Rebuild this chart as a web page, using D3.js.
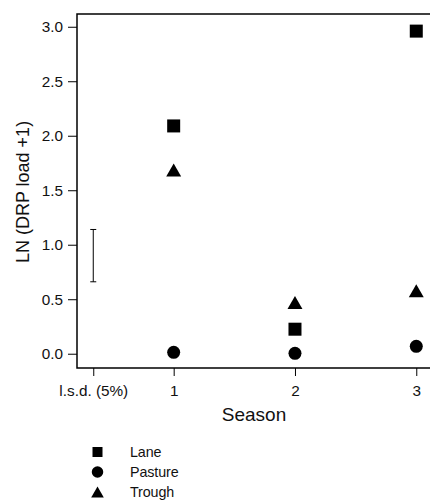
<!DOCTYPE html>
<html>
<head>
<meta charset="utf-8">
<script src="https://cdn.jsdelivr.net/npm/d3@7"></script>
<style>
  html, body { margin: 0; padding: 0; background: #fff; }
  svg { display: block; font-family: "Liberation Sans", Arial, sans-serif; }
</style>
</head>
<body>
<div id="chart"></div>
<script>
// ---- Data ----
const seasons = [1, 2, 3];
const lane = [2.09, 0.225, 2.96];
const pasture = [0.013, 0.004, 0.068];
const trough = [1.685, 0.47, 0.577];
const lsdPosition = 0.337;
const lsdRange = [0.66, 1.14];
const xTickValues = [0.337, 1, 2, 3];
const xTickLabels = ["l.s.d. (5%)", "1", "2", "3"];
const yTickValues = [0, 0.5, 1, 1.5, 2, 2.5, 3];
const seriesNames = ["Lane", "Pasture", "Trough"];
const seriesShapes = ["square", "circle", "triangle"];

// ---- Layout ----
const W = 430, H = 502;
const plotLeft = 77, plotTop = 14, plotRight = 432, plotBottom = 368;

const svg = d3.select("#chart").append("svg").attr("width", W).attr("height", H);

const x = d3.scaleLinear().domain([0.203, 3.113]).range([plotLeft, plotLeft + (3.113 - 0.203) * 121.3]);
const y = d3.scaleLinear().domain([-0.131, 3.117]).range([plotBottom, plotTop]);

// Frame (top, left, bottom)
svg.append("path")
  .attr("d", `M${plotRight},${plotTop}H${plotLeft}V${plotBottom}H${plotRight}`)
  .attr("fill", "none").attr("stroke", "#000").attr("stroke-width", 1.5);

// Y axis
const yAxis = d3.axisLeft(y).tickValues(yTickValues).tickFormat(d3.format(".1f")).tickSize(9).tickPadding(5);
const gy = svg.append("g").attr("transform", `translate(${plotLeft},0)`).call(yAxis);
gy.select(".domain").remove();
gy.selectAll("line").attr("stroke", "#000").attr("stroke-width", 1);
gy.selectAll("text").attr("font-size", 15.3).attr("fill", "#111").attr("font-family", "Liberation Sans, Arial, sans-serif");

// X axis
const xAxis = d3.axisBottom(x).tickValues(xTickValues).tickFormat((d, i) => xTickLabels[i]).tickSize(8).tickPadding(9);
const gx = svg.append("g").attr("transform", `translate(0,${plotBottom})`).call(xAxis);
gx.select(".domain").remove();
gx.selectAll("line").attr("stroke", "#000").attr("stroke-width", 1);
gx.selectAll("text").attr("font-size", 15.3).attr("fill", "#111").attr("font-family", "Liberation Sans, Arial, sans-serif");

// Axis titles
svg.append("text").attr("x", 254).attr("y", 421).attr("text-anchor", "middle")
  .attr("font-size", 19).attr("fill", "#111").text("Season");
svg.append("text").attr("transform", "translate(29,192) rotate(-90)").attr("text-anchor", "middle")
  .attr("font-size", 18).attr("fill", "#111").text("LN (DRP load +1)");

// l.s.d. error bar
const eb = svg.append("g").attr("stroke", "#000").attr("stroke-width", 1);
eb.append("line").attr("x1", x(lsdPosition)).attr("x2", x(lsdPosition)).attr("y1", y(lsdRange[0])).attr("y2", y(lsdRange[1]));
lsdRange.forEach(v => {
  eb.append("line").attr("x1", x(lsdPosition) - 3).attr("x2", x(lsdPosition) + 3).attr("y1", y(v)).attr("y2", y(v));
});

// Symbols
function drawShape(g, shape, cx, cy, s) {
  if (shape === "square") {
    g.append("rect").attr("x", cx - s / 2).attr("y", cy - s / 2).attr("width", s).attr("height", s).attr("fill", "#000");
  } else if (shape === "circle") {
    g.append("circle").attr("cx", cx).attr("cy", cy).attr("r", s / 2).attr("fill", "#000");
  } else {
    const w = s * 1.15, h = s;
    g.append("path").attr("d", `M${cx},${cy - h / 2}L${cx + w / 2},${cy + h / 2}L${cx - w / 2},${cy + h / 2}Z`).attr("fill", "#000");
  }
}

const allSeries = [lane, pasture, trough];
const marks = svg.append("g");
allSeries.forEach((vals, si) => {
  vals.forEach((v, i) => drawShape(marks, seriesShapes[si], x(seasons[i]), y(v), 13));
});

// Legend
const legendY = [452, 472, 492];
const lg = svg.append("g");
seriesNames.forEach((name, i) => {
  const size = seriesShapes[i] === "square" ? 10 : (seriesShapes[i] === "circle" ? 11.5 : 11);
  drawShape(lg, seriesShapes[i], 97.5, legendY[i], size);
  lg.append("text").attr("x", 130).attr("y", legendY[i] + 5).attr("font-size", 14.3)
    .attr("letter-spacing", -0.1).attr("fill", "#111").text(name);
});
</script>
</body>
</html>
